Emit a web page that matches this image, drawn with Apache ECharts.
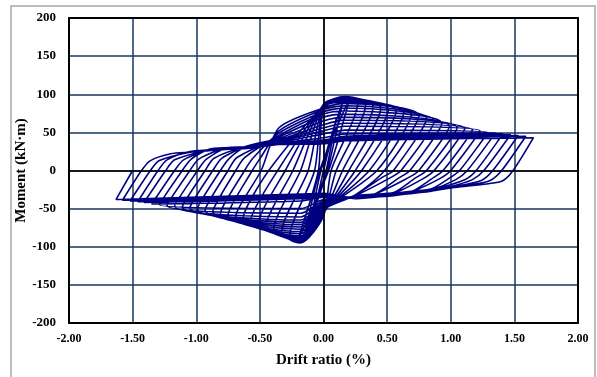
<!DOCTYPE html>
<html style="height: 100%">
  <head>
    <meta charset="UTF-8" />
    <title>Moment - drift ratio</title>
    <script src="https://cdn.jsdelivr.net/npm/echarts@6/dist/echarts.min.js"></script>
  </head>
  <body style="height: 100%; margin: 0">
    <div id="main" style="width: 597px; height: 377px"></div>
    <script>
      // peaks of each cycle (drift %, moment kN·m)
      var dp = [0.05, 0.10, 0.15, 0.21, 0.27, 0.33, 0.39, 0.45, 0.51, 0.57, 0.63, 0.69, 0.75, 0.81,
                0.87, 0.93, 0.99, 1.05, 1.11, 1.17, 1.23, 1.29, 1.35, 1.41, 1.47, 1.53, 1.59, 1.65];
      var Ep = [40, 68, 90, 97, 90, 86, 84, 82, 80, 78, 76, 74, 72, 68,
                65, 62, 58, 56, 55, 53, 52, 50, 49, 48, 47, 46, 45, 43];
      var dn = [-0.05, -0.10, -0.15, -0.21, -0.27, -0.33, -0.39, -0.45, -0.51, -0.57, -0.63, -0.69, -0.75, -0.81,
                -0.87, -0.93, -0.99, -1.05, -1.11, -1.17, -1.23, -1.29, -1.35, -1.41, -1.46, -1.52, -1.58, -1.63];
      var En = [-38, -66, -88, -95, -89, -81, -76, -72, -68, -65, -62, -60, -58, -56,
                -54, -52, -50, -49, -48, -47, -46, -45, -44, -42, -41, -40, -39, -38];

      // loading path towards each peak: moment at -0.35 %, at 0 % and at the hump (+/-0.17 %)
      var Ap = [null, null, null, null, null, null, null, null, null, null, null, null, 56, 52,
                49, 46, 44, 42, 40, 39, 38, 37, 36, 36, 35, 35, 34, 34];
      var Zp = [null, null, null, null, 80, 85, 86, 87, 87, 86, 85, 84, 82, 80,
                77, 74, 70, 65, 60, 56, 52, 48, 43, 40, 38, 37, 36, 35];
      var Hp = [null, null, null, null, 96, 97, 97, 96, 95, 94, 92, 90, 88, 85,
                82, 78, 74, 70, 66, 62, 58, 53, 48, 45, 43, 41, 40, 39];
      var Zn = [null, null, null, null, -60, -58, -57, -56, -55, -54, -53, -52, -51, -50,
                -49, -48, -47, -46, -44, -42, -40, -38, -35, -34, -33, -32, -31, -30];
      var Hn = [null, null, null, null, -95, -95, -94, -93, -92, -90, -88, -86, -83, -80,
                -77, -74, -71, -68, -65, -61, -56, -50, -40, -37, -35, -33, -32, -31];

      // drift where each unloading branch crosses zero moment
      var xp = [0.00, 0.02, 0.03, 0.04, 0.06, 0.10, 0.15, 0.20, 0.25, 0.30, 0.36, 0.42, 0.48, 0.55,
                0.61, 0.68, 0.75, 0.81, 0.87, 0.94, 1.00, 1.07, 1.13, 1.20, 1.26, 1.33, 1.40, 1.49];
      var xn = [0.00, -0.02, -0.03, -0.04, -0.07, -0.12, -0.18, -0.24, -0.30, -0.36, -0.43, -0.49, -0.56, -0.62,
                -0.69, -0.75, -0.81, -0.87, -0.93, -0.99, -1.05, -1.11, -1.17, -1.24, -1.30, -1.36, -1.43, -1.50];

      // reloading bands
      var upBandD = [-1.35, -1.2, -1.05, -0.9, -0.75, -0.6, -0.45];
      var upBandM = [21, 24, 26, 28, 30, 31, 33];
      var upShift = [0, 0, 0, 0, 6, 6, 5, 5, 4, 4, 4, 3, 3, 3, 2, 2, 2, 1, 1, 1, 0, 0, 0, -1, -1, -1, -2, -2];
      var lowBandD = [1.3, 1.15, 1.0, 0.85, 0.7, 0.55, 0.4, 0.25];
      var lowBandM = [-15, -18, -21, -25, -28, -31, -33, -35];
      var lowShift = [0, 0, 0, 0, 5, 5, 5, 4, 4, 4, 3, 3, 3, 3, 2, 2, 2, 2, 1, 1, 1, 1, 0, 0, 0, -1, -1, -2];

      var pts = [[0, 0]];
      for (var i = 0; i < dp.length; i++) {
        // loading towards the positive peak
        if (i > 0) {
          var x0 = xn[i - 1];
          var stop = Ap[i] == null ? -0.4 : (Ap[i] > 43 ? -0.7 : -0.5);
          pts.push([x0, 0]);
          if (x0 < -0.5) pts.push([x0 + 0.07, 15 + upShift[i]]);
          for (var k = 0; k < upBandD.length; k++) {
            if (upBandD[k] > x0 + 0.2 && upBandD[k] < stop) {
              pts.push([upBandD[k], upBandM[k] + upShift[i]]);
            }
          }
        }
        if (Ap[i] != null) pts.push([-0.35, Ap[i]]);
        if (Zp[i] != null) pts.push([0, Zp[i]]);
        if (Hp[i] != null) pts.push([0.17, Hp[i]]);
        pts.push([dp[i], Ep[i]]);
        // unloading and loading towards the negative peak
        pts.push([xp[i], 0]);
        if (xp[i] > 0.5) pts.push([xp[i] - 0.09, -12 + lowShift[i]]);
        for (var k = 0; k < lowBandD.length; k++) {
          if (lowBandD[k] < xp[i] - 0.22 && lowBandD[k] > 0.2) {
            pts.push([lowBandD[k], lowBandM[k] + lowShift[i]]);
          }
        }
        if (Zn[i] != null) pts.push([0, Zn[i]]);
        if (Hn[i] != null) pts.push([-0.18, Hn[i]]);
        pts.push([dn[i], En[i]]);
      }
      pts.push([xn[dn.length - 1], 0]);

      var chartDom = document.getElementById('main');
      var myChart = echarts.init(chartDom);
      var font = 'Liberation Serif';
      var gridColor = '#17375e';

      var option = {
        animation: false,
        backgroundColor: '#fff',
        graphic: [
          {
            type: 'rect',
            shape: { x: 11, y: 6, width: 584, height: 380 },
            style: { fill: 'transparent', stroke: '#a6a6a6', lineWidth: 1.5 },
            silent: true
          }
        ],
        grid: { left: 69, right: 19, top: 18, bottom: 54 },
        xAxis: [
          {
            type: 'value',
            min: -2,
            max: 2,
            interval: 0.5,
            position: 'bottom',
            axisLine: { show: true, onZero: false, lineStyle: { color: '#000', width: 2 } },
            axisTick: { show: false },
            axisLabel: {
              formatter: function (v) { return v.toFixed(2); },
              fontFamily: font, fontWeight: 'bold', fontSize: 12, color: '#000', margin: 10
            },
            splitLine: { lineStyle: { color: gridColor, width: 1.5 } },
            name: 'Drift ratio (%)',
            nameLocation: 'middle',
            nameGap: 30,
            nameMoveOverlap: false,
            nameTextStyle: { fontFamily: font, fontWeight: 'bold', fontSize: 15, color: '#000' }
          },
          {
            type: 'value',
            min: -2,
            max: 2,
            position: 'top',
            axisLine: { show: true, onZero: false, lineStyle: { color: '#000', width: 2 } },
            axisTick: { show: false },
            axisLabel: { show: false },
            splitLine: { show: false }
          }
        ],
        yAxis: [
          {
            type: 'value',
            min: -200,
            max: 200,
            interval: 50,
            position: 'left',
            axisLine: { show: true, onZero: false, lineStyle: { color: '#000', width: 2 } },
            axisTick: { show: false },
            axisLabel: { fontFamily: font, fontWeight: 'bold', fontSize: 13, color: '#000', margin: 13 },
            splitLine: { lineStyle: { color: gridColor, width: 1.5 } },
            name: 'Moment (kN·m)',
            nameLocation: 'middle',
            nameGap: 40,
            nameMoveOverlap: false,
            nameTextStyle: { fontFamily: font, fontWeight: 'bold', fontSize: 15, color: '#000' }
          },
          {
            type: 'value',
            min: -200,
            max: 200,
            position: 'right',
            axisLine: { show: true, onZero: false, lineStyle: { color: '#000', width: 2 } },
            axisTick: { show: false },
            axisLabel: { show: false },
            splitLine: { show: false }
          }
        ],
        series: [
          {
            type: 'line',
            data: [],
            z: 1,
            markLine: {
              silent: true,
              symbol: 'none',
              label: { show: false },
              lineStyle: { color: '#000', width: 1.5, type: 'solid' },
              data: [{ xAxis: 0 }, { yAxis: 0 }]
            }
          },
          {
            type: 'line',
            data: pts,
            z: 3,
            showSymbol: false,
            smooth: 0.25,
            lineStyle: { color: '#000080', width: 1.6 }
          }
        ]
      };

      myChart.setOption(option);
    </script>
  </body>
</html>
